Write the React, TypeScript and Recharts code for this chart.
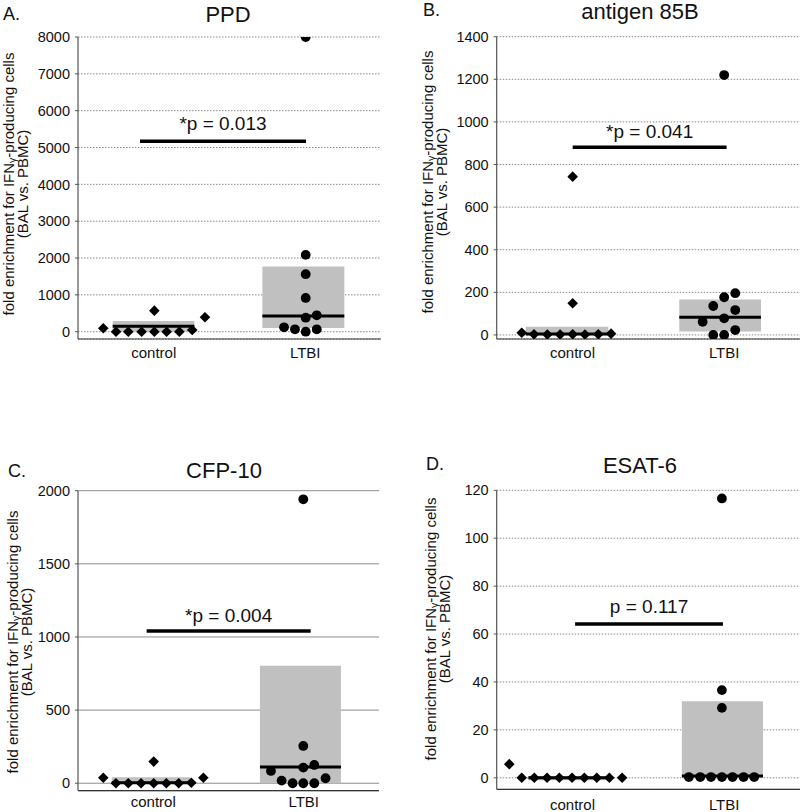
import React from "react";
import {
  ScatterChart,
  Scatter,
  XAxis,
  YAxis,
  CartesianGrid,
  ReferenceArea,
  ReferenceLine,
} from "recharts";

const FONT = '"Liberation Sans", Arial, Helvetica, sans-serif';

const groupTicks = [0.5, 1.5];
const groupNames = ["control", "LTBI"];

// A. PPD
const ppdControlX = [0.167, 0.251, 0.332, 0.42, 0.504, 0.585, 0.669, 0.754, 0.504, 0.838];
const ppdControlY = [92, 0, 0, 0, 0, 0, 0, 46, 571, 392];
const ppdLtbiX = [1.503, 1.503, 1.503, 1.503, 1.576, 1.503, 1.36, 1.432, 1.503, 1.576];
const ppdLtbiY = [8000, 2086, 1561, 917, 446, 381, 120, 65, 0, 65];
const ppdControlBox = [0, 290, 150]; // low, high, median
const ppdLtbiBox = [100, 1768, 427];
const ppdBracket = [0.409, 1.505, 5170];
const ppdTicks = [0, 1000, 2000, 3000, 4000, 5000, 6000, 7000, 8000];

// B. antigen 85B
const agControlX = [0.165, 0.246, 0.334, 0.418, 0.501, 0.582, 0.67, 0.754, 0.501, 0.501];
const agControlY = [10, 3, 2, 2, 3, 2, 3, 6, 149, 743];
const agLtbiX = [1.5, 1.358, 1.428, 1.5, 1.573, 1.573, 1.5, 1.428, 1.5, 1.573];
const agLtbiY = [1220, 62, 136, 177, 196, 117, 78, 0, 0, 23];
const agControlBox = [0, 39, 5];
const agLtbiBox = [16, 167, 83];
const agBracket = [0.501, 1.516, 881];
const agTicks = [0, 200, 400, 600, 800, 1000, 1200, 1400];

// C. CFP-10
const cfpControlX = [0.168, 0.252, 0.334, 0.419, 0.503, 0.587, 0.669, 0.753, 0.503, 0.833];
const cfpControlY = [38, 0, 0, 0, 0, 0, 0, 3, 148, 38];
const cfpLtbiX = [1.497, 1.282, 1.497, 1.497, 1.57, 1.353, 1.426, 1.497, 1.57, 1.645];
const cfpLtbiY = [1941, 84, 255, 107, 125, 18, 0, 0, 0, 34];
const cfpControlBox = [0, 41, 3];
const cfpLtbiBox = [0, 804, 111];
const cfpBracket = [0.456, 1.546, 1041];
const cfpTicks = [0, 500, 1000, 1500, 2000];

// D. ESAT-6
const esatControlX = [0.083, 0.165, 0.248, 0.332, 0.413, 0.497, 0.578, 0.66, 0.743, 0.827];
const esatControlY = [5.7, 0, 0, 0, 0, 0, 0, 0, 0, 0];
const esatLtbiX = [1.485, 1.485, 1.485, 1.267, 1.342, 1.413, 1.485, 1.555, 1.628, 1.698];
const esatLtbiY = [116.6, 36.6, 29.2, 0.3, 0.3, 0.3, 0.3, 0.3, 0.3, 0.3];
const esatControlBox = [-1, 0.8, 0];
const esatLtbiBox = [0, 32, 0.8];
const esatBracket = [0.517, 1.492, 64.2];
const esatTicks = [0, 20, 40, 60, 80, 100, 120];

const toPoints = (xs: number[], ys: number[]) => xs.map((x, i) => ({ x, y: ys[i] }));

const Diamond = (props: any) => {
  const { cx, cy } = props;
  const s = 5.3;
  return (
    <polygon
      points={`${cx},${cy - s} ${cx + s},${cy} ${cx},${cy + s} ${cx - s},${cy}`}
      fill="#000"
    />
  );
};

const Dot = (props: any) => {
  const { cx, cy } = props;
  return <circle cx={cx} cy={cy} r={4.9} fill="#000" />;
};

interface PanelProps {
  left: number;
  top: number;
  width: number;
  height: number;
  margin: { top: number; right: number; bottom: number; left: number };
  xAxisHeight: number;
  xTickMargin: number;
  yDomain: [number, number];
  yTicks: number[];
  control: { x: number; y: number }[];
  ltbi: { x: number; y: number }[];
  controlBox: number[];
  ltbiBox: number[];
  controlBoxX: [number, number];
  ltbiBoxX: [number, number];
  bracket: number[];
  pText: string;
  pOffset: number;
  solidGrid?: boolean;
}

const Panel = (p: PanelProps) => {
  const [cLo, cHi, cMed] = p.controlBox;
  const [lLo, lHi, lMed] = p.ltbiBox;
  const [bx1, bx2, by] = p.bracket;
  return (
    <div style={{ position: "absolute", left: p.left, top: p.top }}>
      <ScatterChart width={p.width} height={p.height} margin={p.margin}>
        <CartesianGrid
          vertical={false}
          stroke={p.solidGrid ? "#8c8c8c" : "#888"}
          strokeDasharray={p.solidGrid ? undefined : "1.5 1.5"}
        />
        <XAxis
          type="number"
          dataKey="x"
          domain={[0, 2]}
          ticks={groupTicks}
          allowDataOverflow
          tickFormatter={(v: number) => (v < 1 ? groupNames[0] : groupNames[1])}
          tickLine={false}
          tickSize={0}
          tickMargin={p.xTickMargin}
          height={p.xAxisHeight}
          axisLine={{ stroke: "#333", strokeWidth: 1.2 }}
          tick={{ fill: "#111", fontSize: 15, fontFamily: FONT }}
        />
        <YAxis
          type="number"
          dataKey="y"
          domain={p.yDomain}
          ticks={p.yTicks}
          allowDataOverflow
          width={60}
          tickSize={3}
          tickMargin={5}
          axisLine={{ stroke: "#555", strokeWidth: 1.2 }}
          tickLine={{ stroke: "#555" }}
          tick={{ fill: "#111", fontSize: 14.5, fontFamily: FONT }}
        />
        <ReferenceArea
          x1={p.controlBoxX[0]}
          x2={p.controlBoxX[1]}
          y1={cLo}
          y2={cHi}
          fill="#c0c0c0"
          fillOpacity={1}
          stroke="none"
        />
        <ReferenceArea
          x1={p.ltbiBoxX[0]}
          x2={p.ltbiBoxX[1]}
          y1={lLo}
          y2={lHi}
          fill="#c0c0c0"
          fillOpacity={1}
          stroke="none"
        />
        <ReferenceLine
          segment={[
            { x: p.controlBoxX[0], y: cMed },
            { x: p.controlBoxX[1], y: cMed },
          ]}
          stroke="#000"
          strokeWidth={3}
        />
        <ReferenceLine
          segment={[
            { x: p.ltbiBoxX[0], y: lMed },
            { x: p.ltbiBoxX[1], y: lMed },
          ]}
          stroke="#000"
          strokeWidth={3}
        />
        <ReferenceLine
          segment={[
            { x: bx1, y: by },
            { x: bx2, y: by },
          ]}
          stroke="#000"
          strokeWidth={3.5}
          label={{
            value: p.pText,
            position: "top",
            offset: p.pOffset,
            fontSize: 19,
            fill: "#111",
            fontFamily: FONT,
          }}
        />
        <Scatter data={p.control} shape={Diamond} isAnimationActive={false} />
        <Scatter data={p.ltbi} shape={Dot} isAnimationActive={false} />
      </ScatterChart>
    </div>
  );
};

const YLabel = ({ x, y }: { x: number; y: number }) => (
  <g transform={`translate(${x},${y}) rotate(-90)`}>
    <text x={0} y={0} textAnchor="middle" fontSize={15} fill="#111">
      <tspan>fold enrichment for IFN</tspan>
      <tspan fontSize={10.5} dy={2}>γ</tspan>
      <tspan dy={-2}>-producing cells</tspan>
    </text>
    <text x={0} y={14} textAnchor="middle" fontSize={15} fill="#111">
      (BAL vs. PBMC)
    </text>
  </g>
);

export default function App() {
  return (
    <div
      style={{
        position: "absolute",
        left: 0,
        top: 0,
        width: 800,
        height: 812,
        background: "#fff",
        fontFamily: FONT,
        overflow: "hidden",
      }}
    >
      <Panel
        left={0}
        top={0}
        width={400}
        height={400}
        margin={{ top: 37, right: 19, bottom: 31, left: 18 }}
        xAxisHeight={30}
        xTickMargin={8}
        yDomain={[-198, 8000]}
        yTicks={ppdTicks}
        control={toPoints(ppdControlX, ppdControlY)}
        ltbi={toPoints(ppdLtbiX, ppdLtbiY)}
        controlBox={ppdControlBox}
        ltbiBox={ppdLtbiBox}
        controlBoxX={[0.229, 0.768]}
        ltbiBoxX={[1.217, 1.758]}
        bracket={ppdBracket}
        pText="*p = 0.013"
        pOffset={11}
      />
      <Panel
        left={400}
        top={0}
        width={400}
        height={400}
        margin={{ top: 36.7, right: 0, bottom: 31, left: 36.7 }}
        xAxisHeight={30}
        xTickMargin={8}
        yDomain={[-19, 1400]}
        yTicks={agTicks}
        control={toPoints(agControlX, agControlY)}
        ltbi={toPoints(agLtbiX, agLtbiY)}
        controlBox={agControlBox}
        ltbiBox={agLtbiBox}
        controlBoxX={[0.191, 0.736]}
        ltbiBoxX={[1.204, 1.743]}
        bracket={agBracket}
        pText="*p = 0.041"
        pOffset={9}
      />
      <Panel
        left={0}
        top={400}
        width={400}
        height={412}
        margin={{ top: 90.7, right: 21, bottom: 1.3, left: 18 }}
        xAxisHeight={20}
        xTickMargin={6}
        yDomain={[-51, 2000]}
        yTicks={cfpTicks}
        control={toPoints(cfpControlX, cfpControlY)}
        ltbi={toPoints(cfpLtbiX, cfpLtbiY)}
        controlBox={cfpControlBox}
        ltbiBox={cfpLtbiBox}
        controlBoxX={[0.224, 0.744]}
        ltbiBoxX={[1.209, 1.747]}
        bracket={cfpBracket}
        pText="*p = 0.004"
        pOffset={9}
        solidGrid
      />
      <Panel
        left={400}
        top={400}
        width={400}
        height={412}
        margin={{ top: 90.3, right: 0, bottom: 2.7, left: 36.7 }}
        xAxisHeight={20}
        xTickMargin={10}
        yDomain={[-4.8, 120]}
        yTicks={esatTicks}
        control={toPoints(esatControlX, esatControlY)}
        ltbi={toPoints(esatLtbiX, esatLtbiY)}
        controlBox={esatControlBox}
        ltbiBox={esatLtbiBox}
        controlBoxX={[0.209, 0.748]}
        ltbiBoxX={[1.221, 1.756]}
        bracket={esatBracket}
        pText="p = 0.117"
        pOffset={11}
      />
      <svg
        width={800}
        height={812}
        style={{ position: "absolute", left: 0, top: 0, pointerEvents: "none" }}
        fontFamily={FONT}
      >
        <text x={3} y={20} fontSize={18} fill="#111">A.</text>
        <text x={228} y={22} fontSize={22} textAnchor="middle" fill="#111">PPD</text>
        <text x={423} y={16} fontSize={18} fill="#111">B.</text>
        <text x={640} y={19} fontSize={22} textAnchor="middle" fill="#111">antigen 85B</text>
        <text x={8} y={477} fontSize={18} fill="#111">C.</text>
        <text x={224} y={478} fontSize={22} textAnchor="middle" fill="#111">CFP-10</text>
        <text x={426} y={470} fontSize={18} fill="#111">D.</text>
        <text x={640} y={473} fontSize={22} textAnchor="middle" fill="#111">ESAT-6</text>
        <YLabel x={14} y={184} />
        <YLabel x={433} y={182} />
        <YLabel x={18} y={642} />
        <YLabel x={436} y={629} />
      </svg>
    </div>
  );
}
